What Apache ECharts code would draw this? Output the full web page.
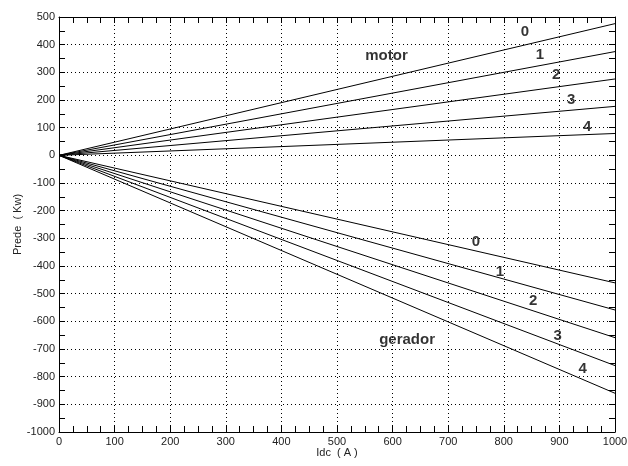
<!DOCTYPE html>
<html><head><meta charset="utf-8">
<script src="https://cdn.jsdelivr.net/npm/echarts@6/dist/echarts.min.js"></script>
<style>html,body{margin:0;padding:0;background:#fff}#c{width:628px;height:466px}</style>
</head><body><div id="c"></div>
<script>
var xEnd = 1000;
var motorEnd = [476, 375, 276, 177, 79];
var geradorEnd = [-461, -559, -659, -760, -860];
var curveNames = ['0', '1', '2', '3', '4'];
var motorLabelPos = [[838, 446], [865, 362], [894, 290], [921, 200], [950, 102]];
var geradorLabelPos = [[750, -313], [793, -422], [853, -527], [897, -654], [942, -773]];
var groupLabels = [['motor', 589, 358], ['gerador', 626, -667]];
var xTicks = {min: 0, max: 1000, interval: 100};
var yTicks = {min: -1000, max: 500, interval: 100};

var font = 'Arial, "Liberation Sans", sans-serif';
var series = [];
function addLine(v) {
  series.push({type: 'line', data: [[0, 0], [xEnd, v]], symbol: 'none', silent: true,
    lineStyle: {color: '#000', width: 1}, xAxisIndex: 0, yAxisIndex: 0});
}
motorEnd.forEach(addLine);
geradorEnd.forEach(addLine);
var labelData = [];
curveNames.forEach(function (n, i) {
  labelData.push({value: motorLabelPos[i], name: n});
  labelData.push({value: geradorLabelPos[i], name: n});
});
groupLabels.forEach(function (g) { labelData.push({value: [g[1], g[2]], name: g[0]}); });
series.push({type: 'scatter', data: labelData, symbolSize: 0.01, silent: true,
  label: {show: true, position: 'inside', formatter: '{b}', color: '#000',
    fontFamily: font, fontWeight: 'bold', fontSize: 15}});

function plain(v) { return String(v); }
var tickCommon = {inside: true, length: 6, lineStyle: {color: '#000'}};
var minorCommon = {show: true, length: 6, lineStyle: {color: '#000'}};
var chart = echarts.init(document.getElementById('c'));
chart.setOption({
  animation: false,
  grid: {left: 59, right: 13, top: 17, bottom: 34, containLabel: false, outerBoundsMode: 'none'},
  xAxis: [{
    type: 'value', min: xTicks.min, max: xTicks.max, interval: xTicks.interval,
    name: 'Idc  ( A )', nameLocation: 'middle', nameGap: 15, nameMoveOverlap: false,
    nameTextStyle: {fontFamily: font, fontSize: 11, color: '#222'},
    axisLine: {show: true, onZero: false, lineStyle: {color: '#000'}},
    axisTick: tickCommon, minorTick: Object.assign({splitNumber: 4}, minorCommon),
    axisLabel: {fontFamily: font, fontSize: 11, color: '#222', margin: 4, formatter: plain},
    splitLine: {show: true, lineStyle: {color: '#000', type: [1, 3]}}
  }, {
    type: 'value', position: 'top', min: xTicks.min, max: xTicks.max, interval: xTicks.interval,
    axisLine: {show: true, onZero: false, lineStyle: {color: '#000'}},
    axisTick: tickCommon, minorTick: Object.assign({splitNumber: 4}, minorCommon),
    axisLabel: {show: false}, splitLine: {show: false}
  }],
  yAxis: [{
    type: 'value', min: yTicks.min, max: yTicks.max, interval: yTicks.interval,
    name: 'Prede  ( Kw)', nameLocation: 'middle', nameGap: 36, nameRotate: 90, nameMoveOverlap: false,
    nameTextStyle: {fontFamily: font, fontSize: 11, color: '#222'},
    axisLine: {show: true, onZero: false, lineStyle: {color: '#000'}},
    axisTick: tickCommon, minorTick: Object.assign({splitNumber: 2}, minorCommon),
    axisLabel: {fontFamily: font, fontSize: 11, color: '#222', margin: 4, formatter: plain},
    splitLine: {show: true, lineStyle: {color: '#000', type: [1, 3]}}
  }, {
    type: 'value', position: 'right', min: yTicks.min, max: yTicks.max, interval: yTicks.interval,
    axisLine: {show: true, onZero: false, lineStyle: {color: '#000'}},
    axisTick: tickCommon, minorTick: Object.assign({splitNumber: 2}, minorCommon),
    axisLabel: {show: false}, splitLine: {show: false}
  }],
  series: series
});
</script></body></html>
